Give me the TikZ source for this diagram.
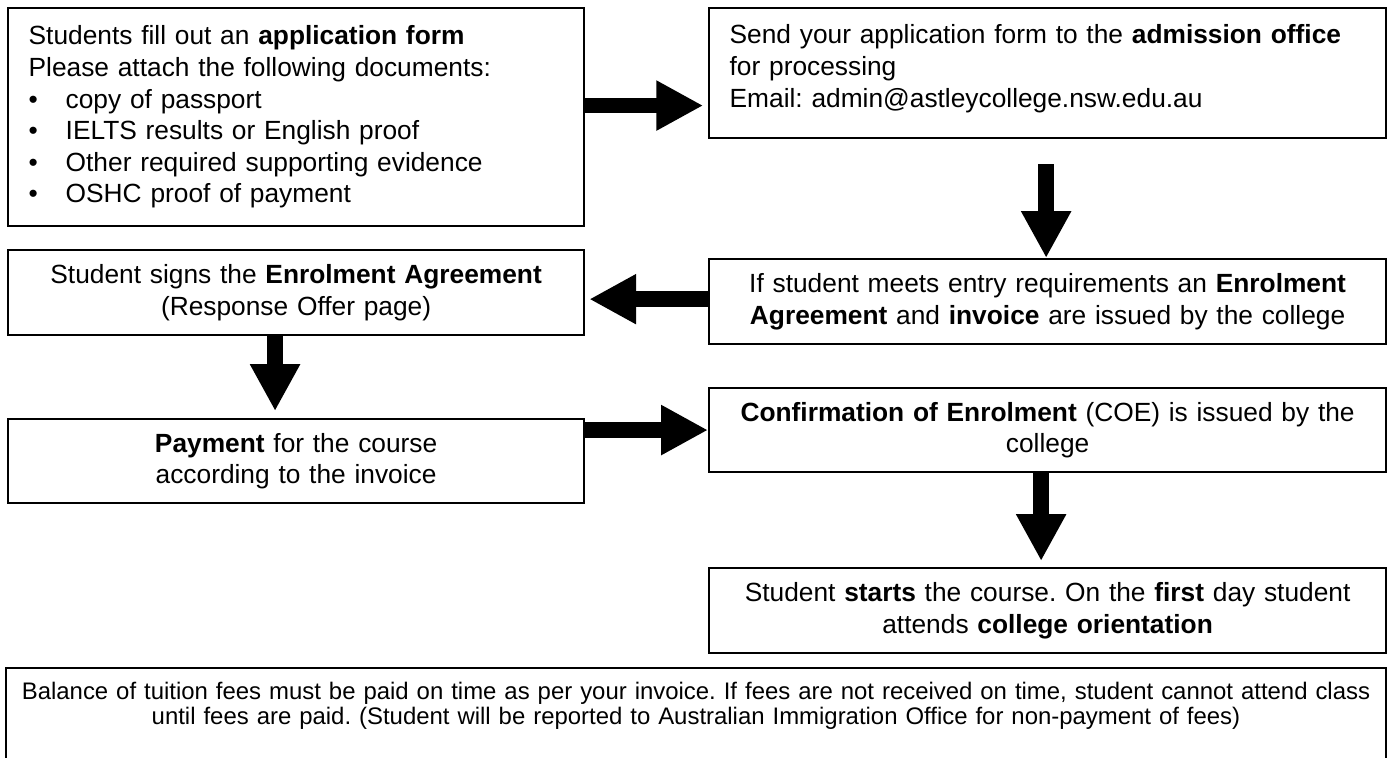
\documentclass[tikz,border=0pt]{standalone}
\usepackage{fontspec}
\setmainfont{Liberation Sans}
\usetikzlibrary{arrows.meta}

\frenchspacing
\newcommand\docitem[1]{\\\makebox[15.5pt][l]{\textbullet}#1}
\newcommand\lowpad[1]{\rule[-#1]{0pt}{#1}}

\tikzset{
  flowbox/.style={draw, line width=0.9pt, anchor=north west, inner sep=0pt, align=center, font=\fontsize{11pt}{13.2pt}\selectfont},
  listbox/.style={flowbox, align=left, inner xsep=8.6pt},
  bigarrow/.style={line width=6.5pt, -{Triangle[width=19.6pt,length=19.6pt]}},
}

\begin{document}
\begin{tikzpicture}[x=0.418pt,y=-0.418pt]
\useasboundingbox (0,0) rectangle (1390,758);
\clip (0,0) rectangle (1390,758);

% left column
\node[listbox, text width=223.6pt, minimum height=91.1pt] (apply) at (7,7) {Students fill out an \textbf{application form}\\Please attach the following documents:\docitem{copy of passport}\docitem{IELTS results or English proof}\docitem{Other required supporting evidence}\docitem{OSHC proof of payment}\lowpad{1.7pt}};
\node[flowbox, text width=240.8pt, minimum height=35.5pt] (sign) at (7,249) {Student signs the \textbf{Enrolment Agreement}\\(Response Offer page)\lowpad{2pt}};
\node[flowbox, text width=240.8pt, minimum height=35.1pt] (pay) at (7,418) {\textbf{Payment} for the course\\according to the invoice};

% right column
\node[listbox, text width=265.8pt, minimum height=54.3pt] (send) at (708,7) {Send your application form to the \textbf{admission office}\\for processing\\Email: admin@astleycollege.nsw.edu.au\lowpad{5.9pt}};
\node[flowbox, text width=283pt, minimum height=35.5pt] (offer) at (708,258) {If student meets entry requirements an \textbf{Enrolment}\\\textbf{Agreement} and \textbf{invoice} are issued by the college};
\node[flowbox, text width=283pt, minimum height=35.1pt] (coe) at (708,387) {\textbf{Confirmation of Enrolment} (COE) is issued by the\\college};
\node[flowbox, text width=283pt, minimum height=35.5pt] (start) at (708,567) {Student \textbf{starts} the course. On the \textbf{first} day student\\attends \textbf{college orientation}};

% note at the bottom
\node[flowbox, text width=576.8pt, inner ysep=6pt, font=\fontsize{10pt}{10.45pt}\selectfont] (fees) at (5,667) {Balance of tuition fees must be paid on time as per your invoice. If fees are not received on time, student cannot attend class\\until fees are paid. (Student will be reported to Australian Immigration Office for non-payment of fees)\lowpad{30pt}};

% arrows
\draw[bigarrow, shorten >=2pt] ([yshift=4.8pt]apply.east) -- ([yshift=4.8pt]apply.east -| send.west);
\draw[bigarrow, shorten <=10.5pt] ([xshift=-0.6pt]send.south) -- ([xshift=-0.6pt]offer.north);
\draw[bigarrow, shorten >=1.7pt] ([yshift=1pt]offer.west) -- ([yshift=1pt]offer.west -| sign.east);
\draw[bigarrow, shorten >=2.9pt] ([xshift=-8.8pt]sign.south) -- ([xshift=-8.8pt]sign.south |- pay.north);
\draw[bigarrow] (coe.west -| pay.east) -- (coe.west);
\draw[bigarrow, shorten >=2.5pt] ([xshift=-2.7pt]coe.south) -- ([xshift=-2.7pt]start.north);
\end{tikzpicture}
\end{document}
